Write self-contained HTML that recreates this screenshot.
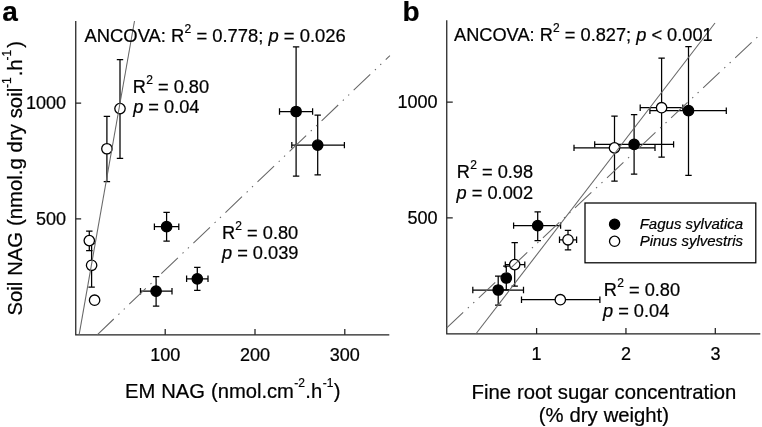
<!DOCTYPE html>
<html><head><meta charset="utf-8"><title>Figure</title>
<style>
html,body{margin:0;padding:0;background:#fff;}
body{width:762px;height:427px;overflow:hidden;font-family:"Liberation Sans",sans-serif;}
svg{display:block;will-change:transform;opacity:0.999;}
text{font-family:"Liberation Sans",sans-serif;fill:#000;stroke:#000;stroke-width:0.22px;}
</style></head><body>
<svg width="762" height="427" viewBox="0 0 762 427">
<rect width="762" height="427" fill="#fff"/>
<!-- axes -->
<g stroke="#222" stroke-width="1.25" fill="none">
<path d="M75.75 21V334.8H389.3"/>
<path d="M75.75 103h5.4M75.75 218.9h5.4M165.2 334.8v-5.8M255 334.8v-5.8M344.8 334.8v-5.8"/>
<path d="M446.75 20.3V333.9H760.3"/>
<path d="M446.75 102h6M446.75 217.9h6M536.6 333.9v-5.8M625.95 333.9v-5.8M715.3 333.9v-5.8"/>
</g>
<!-- error bars -->
<g stroke="#000" stroke-width="1.25" fill="none">
<path d="M279.5 111.5H312.6M279.5 108.3V114.7M312.6 108.3V114.7"/><path d="M296.1 46.75V176M292.9 46.75H299.3M292.9 176H299.3"/>
<path d="M291.8 145.1H344.4M291.8 141.9V148.3M344.4 141.9V148.3"/><path d="M317.7 115.2V174.8M314.5 115.2H320.9M314.5 174.8H320.9"/>
<path d="M154.4 226.7H178.8M154.4 223.5V229.9M178.8 223.5V229.9"/><path d="M166.6 212.3V241.2M163.4 212.3H169.8M163.4 241.2H169.8"/>
<path d="M186.6 278.8H208M186.6 275.6V282M208 275.6V282"/><path d="M197.3 267.3V290.3M194.1 267.3H200.5M194.1 290.3H200.5"/>
<path d="M140.5 291.2H172M140.5 288V294.4M172 288V294.4"/><path d="M156.1 276.5V306M152.9 276.5H159.3M152.9 306H159.3"/>
<path d="M120 59.5V158.4M116.8 59.5H123.2M116.8 158.4H123.2"/>
<path d="M106.9 116.4V181.5M103.7 116.4H110.1M103.7 181.5H110.1"/>
<path d="M89.3 231V250.5M86.1 231H92.5M86.1 250.5H92.5"/>
<path d="M91.6 243.6V287M88.4 243.6H94.8M88.4 287H94.8"/>
<path d="M649.9 110.7H726.3M649.9 107.5V113.9M726.3 107.5V113.9"/><path d="M688.5 46.5V175.3M685.3 46.5H691.7M685.3 175.3H691.7"/>
<path d="M594.7 144.4H673.6M594.7 141.2V147.6M673.6 141.2V147.6"/><path d="M634.1 114.7V174M630.9 114.7H637.3M630.9 174H637.3"/>
<path d="M513.6 225.6H560.6M513.6 222.4V228.8M560.6 222.4V228.8"/><path d="M537.7 211.75V240.5M534.5 211.75H540.9M534.5 240.5H540.9"/>
<path d="M506.3 266.2V289.8M503.1 266.2H509.5M503.1 289.8H509.5"/>
<path d="M472.8 290H523.5M472.8 286.8V293.2M523.5 286.8V293.2"/><path d="M498.2 276.2V305M495 276.2H501.4M495 305H501.4"/>
<path d="M640.2 107.7H682.8M640.2 104.5V110.9M682.8 104.5V110.9"/><path d="M661.6 58.2V157.2M658.4 58.2H664.8M658.4 157.2H664.8"/>
<path d="M574 147.9H655M574 144.7V151.1M655 144.7V151.1"/><path d="M614.5 116V181.2M611.3 116H617.7M611.3 181.2H617.7"/>
<path d="M559.5 239.8H576.6M559.5 236.6V243M576.6 236.6V243"/><path d="M568 230.3V249.9M564.8 230.3H571.2M564.8 249.9H571.2"/>
<path d="M505.3 264.6H524.8M505.3 261.4V267.8M524.8 261.4V267.8"/><path d="M514.7 242.6V286.1M511.5 242.6H517.9M511.5 286.1H517.9"/>
<path d="M521.5 299.7H599.9M521.5 296.5V302.9M599.9 296.5V302.9"/>
</g>
<!-- symbols -->
<g stroke="#000" stroke-width="1.3">
<circle cx="296.1" cy="111.5" r="5.2" fill="#000"/>
<circle cx="317.7" cy="145.1" r="5.2" fill="#000"/>
<circle cx="166.6" cy="226.7" r="5.2" fill="#000"/>
<circle cx="197.3" cy="278.8" r="5.2" fill="#000"/>
<circle cx="156.1" cy="291.2" r="5.2" fill="#000"/>
<circle cx="120" cy="108.6" r="5.2" fill="#fff"/>
<circle cx="106.9" cy="148.75" r="5.2" fill="#fff"/>
<circle cx="89.3" cy="240.6" r="5.2" fill="#fff"/>
<circle cx="91.6" cy="265.3" r="5.2" fill="#fff"/>
<circle cx="94.6" cy="300.2" r="5.2" fill="#fff"/>
<circle cx="688.5" cy="110.7" r="5.2" fill="#000"/>
<circle cx="634.1" cy="144.4" r="5.2" fill="#000"/>
<circle cx="537.7" cy="225.6" r="5.2" fill="#000"/>
<circle cx="506.3" cy="278" r="5.2" fill="#000"/>
<circle cx="498.2" cy="290" r="5.2" fill="#000"/>
<circle cx="661.6" cy="107.7" r="5.2" fill="#fff"/>
<circle cx="614.5" cy="147.9" r="5.2" fill="#fff"/>
<circle cx="568" cy="239.8" r="5.2" fill="#fff"/>
<circle cx="514.7" cy="264.6" r="5.2" fill="#fff"/>
<circle cx="560.3" cy="299.7" r="5.2" fill="#fff"/>
</g>
<!-- regression lines -->
<g stroke="#666" stroke-width="1.05" fill="none">
<path d="M79.1 334.8L134.5 21"/>
<path d="M475.8 334L715 23"/>
<path d="M97.2 334.8L389.9 55.7" stroke-dasharray="22.9 6.4 1.4 6 1.4 6.2"/>
<path d="M446.75 327.8L760 34.6" stroke-dasharray="22.5 6.4 1.4 6 1.4 6.2"/>
</g>
<!-- legend -->
<rect x="585" y="203" width="170.8" height="59.8" fill="#fff" stroke="#000" stroke-width="1.25"/>
<circle cx="614.6" cy="224.2" r="5.1" fill="#000" stroke="#000" stroke-width="1.3"/>
<circle cx="614.6" cy="241.3" r="5.1" fill="#fff" stroke="#000" stroke-width="1.3"/>
<g font-size="15px" font-style="italic">
<text x="639.7" y="229">Fagus sylvatica</text>
<text x="639.7" y="246.1">Pinus sylvestris</text>
</g>
<!-- panel letters -->
<g font-size="28px" font-weight="bold">
<text x="2.2" y="21.4">a</text>
<text x="402.6" y="21.3">b</text>
</g>
<!-- tick labels -->
<g font-size="18px">
<g text-anchor="end">
<text x="66.1" y="109.3">1000</text>
<text x="66.1" y="225.2">500</text>
<text x="437.5" y="108">1000</text>
<text x="437.5" y="224">500</text>
</g>
<g text-anchor="middle">
<text x="165.2" y="360.6">100</text>
<text x="255" y="360.6">200</text>
<text x="344.8" y="360.6">300</text>
<text x="536.6" y="360">1</text>
<text x="625.9" y="360">2</text>
<text x="715.4" y="360">3</text>
</g>
</g>
<!-- annotations -->
<g font-size="18.2px">
<text x="84.5" y="42" font-size="18.4px">ANCOVA: R<tspan dx="0.2" dy="-9" font-size="12px">2</tspan><tspan dx="0.1" dy="9"> = 0.778; </tspan><tspan font-style="italic">p</tspan> = 0.026</text>
<text x="454" y="41" font-size="18.22px">ANCOVA: R<tspan dx="0.2" dy="-9" font-size="12px">2</tspan><tspan dx="0.1" dy="9"> = 0.827; </tspan><tspan font-style="italic">p</tspan> &lt; 0.001</text>
<text x="132.8" y="92.5">R<tspan dx="0.2" dy="-9" font-size="12px">2</tspan><tspan dx="0.1" dy="9"> = 0.80</tspan></text>
<text x="133.2" y="113.3"><tspan font-style="italic">p</tspan> = 0.04</text>
<text x="221.9" y="239.3">R<tspan dx="0.2" dy="-9" font-size="12px">2</tspan><tspan dx="0.1" dy="9"> = 0.80</tspan></text>
<text x="222" y="259.4"><tspan font-style="italic">p</tspan> = 0.039</text>
<text x="456.8" y="178.2">R<tspan dx="0.2" dy="-9" font-size="12px">2</tspan><tspan dx="0.1" dy="9"> = 0.98</tspan></text>
<text x="456.6" y="198.8"><tspan font-style="italic">p</tspan> = 0.002</text>
<text x="603.8" y="296.2">R<tspan dx="0.2" dy="-9" font-size="12px">2</tspan><tspan dx="0.1" dy="9"> = 0.80</tspan></text>
<text x="603" y="316.7"><tspan font-style="italic">p</tspan> = 0.04</text>
</g>
<!-- axis titles -->
<g font-size="20px">
<text x="125.1" y="398.2" font-size="20.2px" word-spacing="0.3px">EM NAG (nmol.cm<tspan dx="0.2" dy="-11" font-size="12px">-2</tspan><tspan dx="0.5" dy="11">.h</tspan><tspan dx="0.6" dy="-11" font-size="12px">-1</tspan><tspan dx="0.3" dy="11">)</tspan></text>
<text transform="translate(21.6 315.6) rotate(-90)" font-size="20.3px" word-spacing="0.3px">Soil NAG (nmol.g dry soil<tspan dx="-0.2" dy="-11" font-size="12px">-1</tspan><tspan dx="1.1" dy="11">.h</tspan><tspan dx="-1.2" dy="-11" font-size="12px">-1</tspan><tspan dx="2.2" dy="11">)</tspan></text>
<text x="471.6" y="398.5" font-size="20.3px" word-spacing="0.3px">Fine root sugar concentration</text>
<text x="538.8" y="421.7" font-size="20.3px" word-spacing="0.3px">(% dry weight)</text>
</g>
</svg>
</body></html>
